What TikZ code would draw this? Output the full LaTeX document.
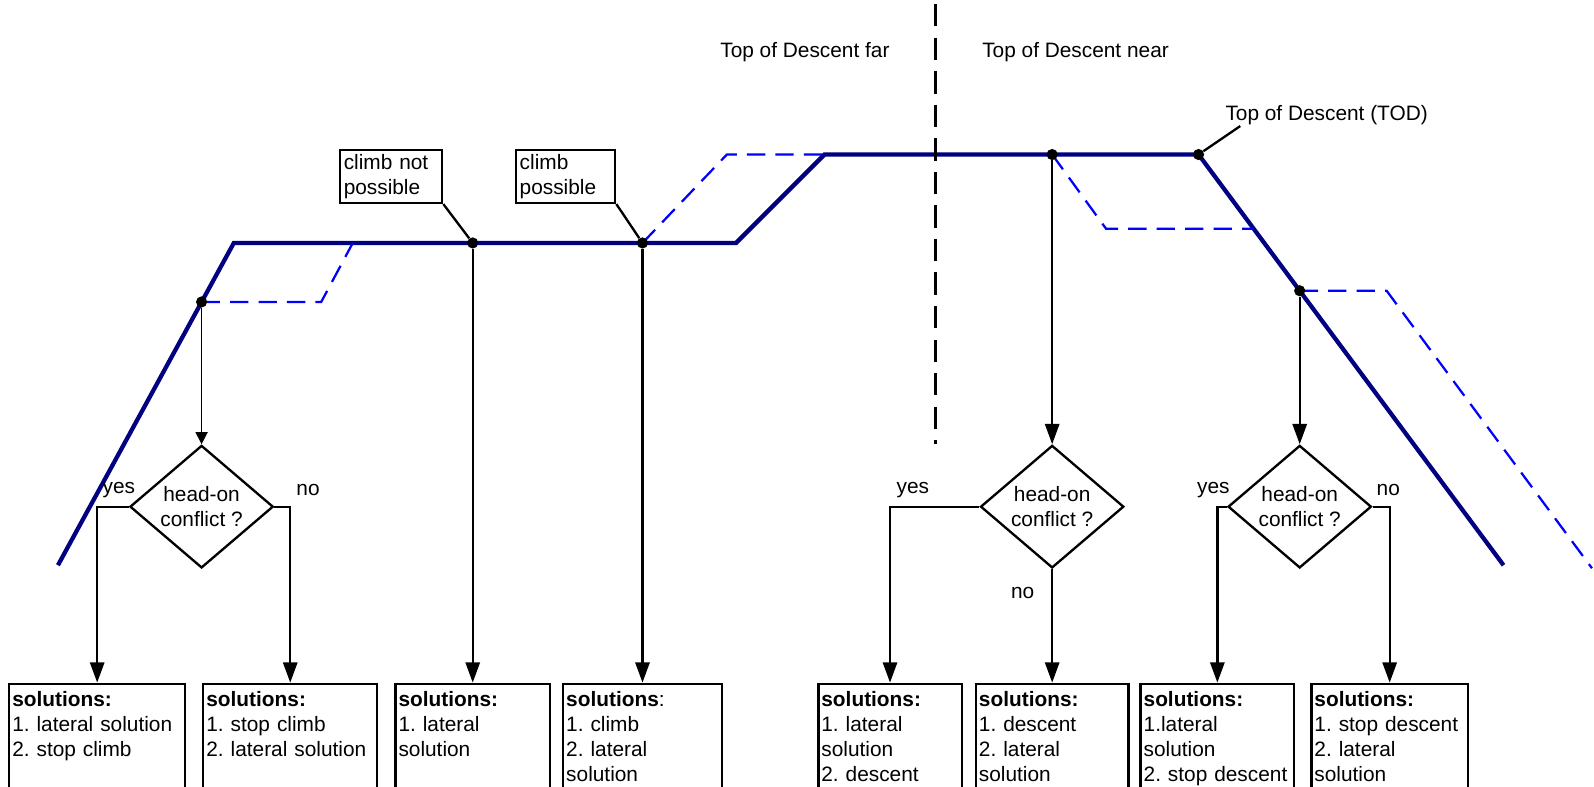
\documentclass[tikz,border=0pt]{standalone}
\usepackage{fontspec}
\setmainfont{Liberation Sans}
\usepackage{tikz}
\usetikzlibrary{shapes.geometric,arrows.meta}
\definecolor{navyline}{RGB}{0,0,128}
\frenchspacing

\begin{document}
\begin{tikzpicture}[x=1pt,y=-1pt,
		font=\fontsize{20.5}{24.6}\selectfont,
		profile/.style={draw=navyline,line width=4.2pt},
		alt/.style={draw=blue,line width=2.2pt,dash pattern=on 18pt off 10pt},
		sep/.style={draw=black,line width=2.4pt,dash pattern=on 22pt off 11pt},
		conn/.style={draw,line width=2.3pt},
		arr/.style={conn,-{Triangle[length=20pt,width=14pt]}},
		thinarr/.style={draw,line width=1.4pt,-{Triangle[length=12pt,width=12pt]}},
		decision/.style={diamond,draw,line width=2.3pt,minimum width=141pt,minimum height=115pt,inner sep=0pt,align=center},
		solbox/.style={draw,line width=2.3pt,anchor=north,inner xsep=3pt,inner ysep=7pt,text height=15pt,text depth=110pt,align=left},
		remark/.style={draw,line width=2.3pt,anchor=north west,inner xsep=3.5pt,inner ysep=4pt,text height=15pt,align=left},
		pt/.style={circle,fill,inner sep=0pt,minimum size=11pt}]
		\useasboundingbox (0,0) rectangle (1568,774);
		\draw[profile] (57,556) -- (230,239) -- (724,239) -- (811,152) -- (1179,152) -- (1479,556);
		\draw[alt] (198.3,297) -- (316,297) -- (347,239);
		\draw[alt] (632,239) -- (715,152) -- (811,152);
		\draw[alt] (1035,152) -- (1088,225) -- (1233,225);
		\draw[alt] (1278.5,286) -- (1364,286) -- (1566,559);
		\coordinate (septop) at (920.4,4);
		\coordinate (sepbot) at (920.4,437);
		\draw[sep] (septop) -- (sepbot);
		\node[pt] (pA) at (198.3,297) {};
		\node[pt] (pB) at (465,239) {};
		\node[pt] (pC) at (632,239) {};
		\node[pt] (pD) at (1035,152) {};
		\node[pt] (pTOD) at (1179,152) {};
		\node[pt] (pE) at (1278.5,286) {};
		\node[remark,text width=93.3pt] (cnp) at (333.5,146.6) {climb not\\possible};
		\node[remark,text width=90.4pt] (cp) at (506.6,146.6) {climb\\possible};
		\node (far) at (791.8,50.8) {Top of Descent far};
		\node (near) at (1058,50.8) {Top of Descent near};
		\node (todlbl) at (1305,113) {Top of Descent (TOD)};
		\coordinate (todend) at (1220,124);
		\node[decision] (hc1) at (pA |- 0,498.4) {head-on\\conflict ?};
		\node[decision] (hc2) at (pD |- 0,498.4) {head-on\\conflict ?};
		\node[decision] (hc3) at (pE |- 0,498.4) {head-on\\conflict ?};
		\node (y1) at (117,482) {yes};
		\node (n1) at (303,482) {no};
		\node (y2) at (898,482) {yes};
		\node (n2) at (1006,583) {no};
		\node (y3) at (1193.5,482) {yes};
		\node (n3) at (1365.6,482) {no};
		\node[solbox,text width=167pt] (s1) at (95.6,671.5) {\textbf{solutions:}\\1. lateral solution\\2. stop climb};
		\node[solbox,text width=165pt] (s2) at (285.5,671.5) {\textbf{solutions:}\\1. stop climb\\2. lateral solution};
		\node[solbox,text width=146pt] (s3) at (pB |- 0,671.5) {\textbf{solutions:}\\1. lateral\\solution};
		\node[solbox,text width=150pt] (s4) at (pC |- 0,671.5) {\textbf{solutions}:\\1. climb\\2. lateral\\solution};
		\node[solbox,text width=135pt] (s5) at (875.5,671.5) {\textbf{solutions:}\\1. lateral\\solution\\2. descent};
		\node[solbox,text width=144pt] (s6) at (pD |- 0,671.5) {\textbf{solutions:}\\1. descent\\2. lateral\\solution};
		\node[solbox,text width=145pt] (s7) at (1197.5,671.5) {\textbf{solutions:}\\1.lateral\\solution\\2. stop descent};
		\node[solbox,text width=148pt] (s8) at (1367,671.5) {\textbf{solutions:}\\1. stop descent\\2. lateral\\solution};
		\path[thinarr]
		(pA) edge (hc1);
		\path[arr]
		(pB) edge (s3);
		\path[arr]
		(pC) edge (s4);
		\path[arr]
		(pD) edge (hc2);
		\path[arr]
		(pE) edge (hc3);
		\path[arr]
		(hc2) edge (s6);
		\draw[arr] (hc1.west) -| (s1.north);
		\draw[arr] (hc1.east) -| (s2.north);
		\draw[arr] (hc2.west) -| (s5.north);
		\draw[arr] (hc3.west) -| (s7.north);
		\draw[arr] (hc3.east) -| (s8.north);
		\draw[conn] (cnp.south east) -- (pB);
		\draw[conn] (cp.south east) -- (pC);
		\draw[conn] (todend) -- (pTOD);
\end{tikzpicture}
\end{document}
